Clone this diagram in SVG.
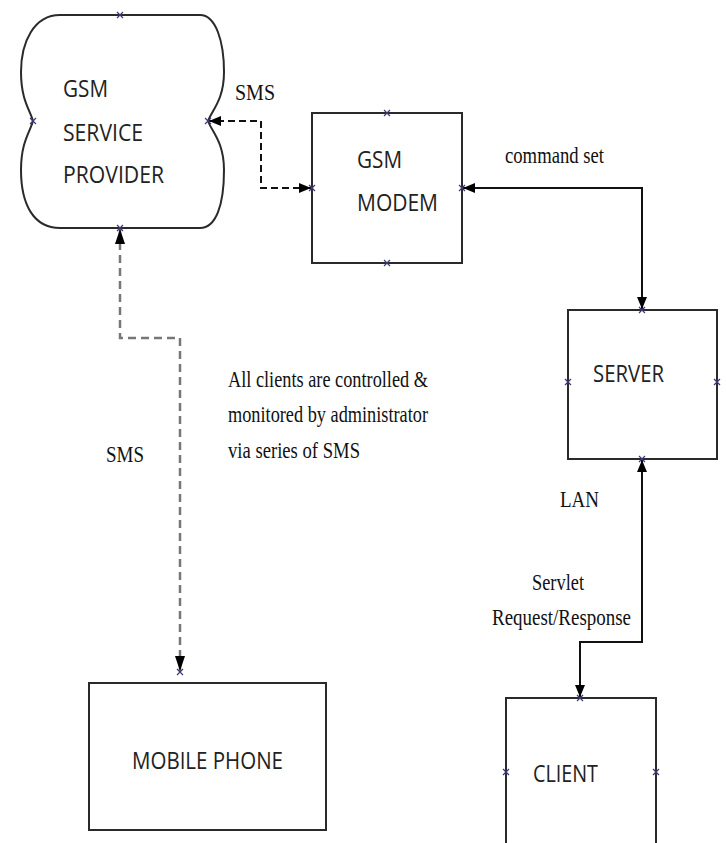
<svg xmlns="http://www.w3.org/2000/svg" width="726" height="843" viewBox="0 0 726 843">
<style>
.box{fill:#fff;stroke:#2a2a2a;stroke-width:2}
.sans{font-family:"Open Sans","Liberation Sans",sans-serif;font-size:24px;fill:#222}
.serif{font-family:"Liberation Serif","Times New Roman",serif;font-size:23px;fill:#111}
.x{stroke:#3a3a7a;stroke-width:1.2;fill:none}
.solid{fill:none;stroke:#111;stroke-width:2}
.dash{fill:none;stroke:#111;stroke-width:2;stroke-dasharray:7 4}
.dashg{fill:none;stroke:#777;stroke-width:2.5;stroke-dasharray:8 5}
</style>
<defs>
<marker id="ah" viewBox="0 0 12 10" refX="12" refY="5" markerWidth="12" markerHeight="10" markerUnits="userSpaceOnUse" orient="auto-start-reverse">
<path d="M0,0 L12,5 L0,10 Z" fill="#000"/>
</marker>
<path id="xm" d="M-3,-3 L3,3 M-3,3 L3,-3"/>
</defs>
<rect width="726" height="843" fill="#fff"/>

<g id="connectors">
<path class="dash" d="M311,188 H261 V121 H209" marker-start="url(#ah)" marker-end="url(#ah)"/>
<path class="solid" d="M463,188 H642 V309" marker-start="url(#ah)" marker-end="url(#ah)"/>
<path class="solid" d="M642,460 V642 H580 V697" marker-start="url(#ah)" marker-end="url(#ah)"/>
<path class="dashg" d="M120,229 V338 H180 V671"/>
<path d="M120,229 L115,244 L125,244 Z" fill="#000"/>
<path d="M180,671 L175,656 L185,656 Z" fill="#000"/>
<text class="serif" x="235" y="100" textLength="40" lengthAdjust="spacingAndGlyphs">SMS</text>
<text class="serif" x="505" y="163" textLength="99" lengthAdjust="spacingAndGlyphs">command set</text>
<text class="serif" x="106" y="462" textLength="38" lengthAdjust="spacingAndGlyphs">SMS</text>
<text class="serif" x="560" y="507" textLength="39" lengthAdjust="spacingAndGlyphs">LAN</text>
<text class="serif" x="532" y="590" textLength="52" lengthAdjust="spacingAndGlyphs">Servlet</text>
<text class="serif" x="492" y="625" textLength="139" lengthAdjust="spacingAndGlyphs">Request/Response</text>
</g>

<g id="note">
<text class="serif" x="228" y="387" textLength="200" lengthAdjust="spacingAndGlyphs">All clients are controlled &amp;</text>
<text class="serif" x="228" y="422" textLength="200" lengthAdjust="spacingAndGlyphs">monitored by administrator</text>
<text class="serif" x="228" y="458" textLength="132" lengthAdjust="spacingAndGlyphs">via series of SMS</text>
</g>

<g id="gsm-provider">
<path class="box" d="M60,15 H200 C216,15 224,42 224,72 C224,100 212,110 208,121 C212,132 224,142 224,170 C224,205 216,228 200,228 H60 C34,228 21,205 21,170 C21,142 30,132 33,121 C30,110 21,100 21,72 C21,42 34,15 60,15 Z"/>
<use href="#xm" class="x" x="120" y="15"/>
<use href="#xm" class="x" x="120" y="228"/>
<use href="#xm" class="x" x="33" y="121"/>
<use href="#xm" class="x" x="208" y="121"/>
<text class="sans" x="63" y="97" textLength="45" lengthAdjust="spacingAndGlyphs">GSM</text>
<text class="sans" x="63" y="141" textLength="80" lengthAdjust="spacingAndGlyphs">SERVICE</text>
<text class="sans" x="63" y="183" textLength="101" lengthAdjust="spacingAndGlyphs">PROVIDER</text>
</g>

<g id="gsm-modem">
<rect class="box" x="312" y="113" width="150" height="150"/>
<use href="#xm" class="x" x="387" y="113"/>
<use href="#xm" class="x" x="387" y="263"/>
<use href="#xm" class="x" x="312" y="188"/>
<use href="#xm" class="x" x="462" y="188"/>
<text class="sans" x="357" y="168" textLength="45" lengthAdjust="spacingAndGlyphs">GSM</text>
<text class="sans" x="357" y="211" textLength="81" lengthAdjust="spacingAndGlyphs">MODEM</text>
</g>

<g id="server">
<rect class="box" x="568" y="310" width="149" height="149"/>
<use href="#xm" class="x" x="642" y="310"/>
<use href="#xm" class="x" x="642" y="459"/>
<use href="#xm" class="x" x="568" y="382"/>
<use href="#xm" class="x" x="717" y="382"/>
<text class="sans" x="593" y="382" textLength="71" lengthAdjust="spacingAndGlyphs">SERVER</text>
</g>

<g id="mobile-phone">
<rect class="box" x="89" y="683" width="237" height="147"/>
<use href="#xm" class="x" x="180" y="672"/>
<text class="sans" x="132" y="769" textLength="151" lengthAdjust="spacingAndGlyphs">MOBILE PHONE</text>
</g>

<g id="client">
<path class="box" d="M506,850 V698 H656 V850"/>
<use href="#xm" class="x" x="580" y="698"/>
<use href="#xm" class="x" x="506" y="772"/>
<use href="#xm" class="x" x="656" y="772"/>
<text class="sans" x="533" y="782" textLength="65" lengthAdjust="spacingAndGlyphs">CLIENT</text>
</g>
</svg>
